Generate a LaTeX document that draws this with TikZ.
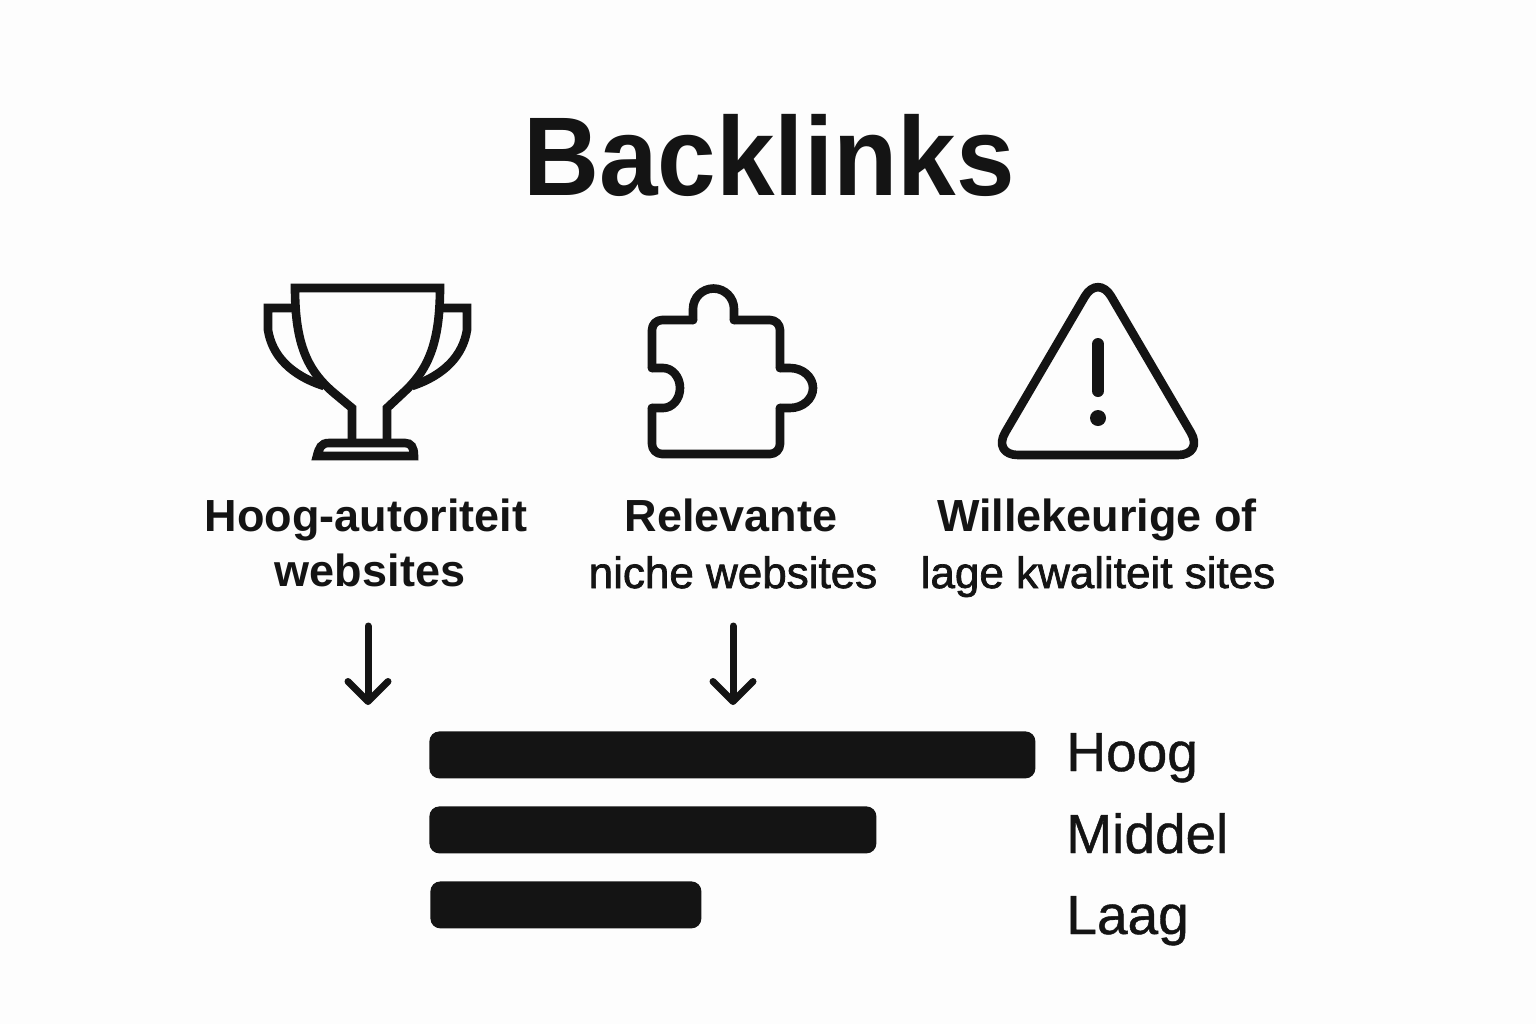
\documentclass[tikz,border=0pt]{standalone}
\usepackage{fontspec}
\setmainfont{Liberation Sans}
\newfontfamily\mediumfont[FakeBold=1.6]{Liberation Sans}
\newfontfamily\levelfont[FakeBold=0.8]{Liberation Sans}
\usetikzlibrary{arrows.meta}
\definecolor{inkcol}{HTML}{141414}
\definecolor{paper}{HTML}{FDFDFD}
\tikzset{
  icon/.style={draw=inkcol,line width=4.3pt,line join=round,line cap=round},
  cupline/.style={draw=inkcol,line width=4.3pt,line join=miter,line cap=butt},
  titletext/.style={text=inkcol,font=\bfseries\fontsize{56}{56}\selectfont,transform shape,xscale=0.94},
  caption/.style={text=inkcol,font=\bfseries\fontsize{22.5}{22.5}\selectfont,anchor=base},
  captionlight/.style={text=inkcol,font=\mediumfont\fontsize{22}{22}\selectfont,anchor=base},
  level/.style={text=inkcol,font=\levelfont\fontsize{27.5}{27.5}\selectfont,anchor=base west,inner sep=0pt},
  bar/.style={fill=inkcol,rounded corners=5pt,anchor=north west,inner sep=0pt,minimum height=23.5pt},
  pointer/.style={draw=inkcol,line width=3.5pt,line cap=round,-{Straight Barb[length=10pt,width=20pt,round]}}
}
\begin{document}
\begin{tikzpicture}[x=0.5pt,y=-0.5pt]
  \useasboundingbox[fill=paper] (0,0) rectangle (1536,1024);
  \def\handles{(295,308) -- (268,308) -- (268,330) .. controls (272,355) and (290,375) .. (324,386)
     (441,308) -- (467,308) -- (467,330) .. controls (463,355) and (445,375) .. (412,386)}
  \def\cup{(352,445) -- (352,408) -- (334,393) .. controls (308,371) and (295,345) .. (295,288)
     -- (440,288) .. controls (440,345) and (427,371) .. (403,393) -- (387,408) -- (387,445)}
  \node[titletext] (title) at (769,155) {Backlinks};
  % beker
  \draw[cupline] \handles;
  \draw[cupline] \cup;
  \draw[cupline] (317,456) .. controls (319,448) and (321,443) .. (329,443) -- (405,443)
     .. controls (411,443) and (414,447) .. (414,456) -- cycle;
  % puzzel
  \draw[icon] (693,320) -- (693,309) arc[start angle=180,end angle=0,radius=10.25pt] -- (734,320);
  \draw[icon,rounded corners=5pt] (734,320) -- (780,320) -- (780,368);
  \draw[icon] (780,368) -- (790,368) arc[start angle=90,end angle=-90,x radius=11.5pt,y radius=10pt] -- (780,408);
  \draw[icon,rounded corners=5pt] (780,408) -- (780,454) -- (652,454) -- (652,408);
  \draw[icon] (652,408) -- (663,408) arc[start angle=-90,end angle=90,x radius=8.5pt,y radius=10pt] -- (652,368);
  \draw[icon,rounded corners=5pt] (652,368) -- (652,320) -- (693,320);
  % driehoek
  \draw[icon,rounded corners=13pt] (992,455) -- (1098,274) -- (1204,455) -- cycle;
  \draw[inkcol,line width=6pt,line cap=round] (1098,344) -- (1098,391);
  \fill[inkcol] (1098,418) circle[radius=4pt];
  % teksten
  \node[caption] (authtop) at (366,531) {Hoog-autoriteit};
  \node[caption] (authbot) at (370,586) {websites};
  \node[caption] (nichetop) at (731,531) {Relevante};
  \node[captionlight] (nichebot) at (733,588) {niche websites};
  \node[caption] (lowtop) at (1097,531) {Willekeurige of};
  \node[captionlight] (lowbot) at (1098,588) {lage kwaliteit sites};
  % pijlen
  \coordinate (authfrom) at (368,626);
  \coordinate (authto) at (368,705);
  \coordinate (nichefrom) at (733,626);
  \coordinate (nicheto) at (733,705);
  \draw[pointer] (authfrom) -- (authto);
  \draw[pointer] (nichefrom) -- (nicheto);
  % balken
  \node[bar,minimum width=303pt] (high) at (429,731) {};
  \node[bar,minimum width=223.5pt] (mid) at (429,806) {};
  \node[bar,minimum width=135.5pt] (low) at (430,881) {};
  \node[level] (highlabel) at (1066,771) {Hoog};
  \node[level] (midlabel) at (1066,853) {Middel};
  \node[level] (lowlabel) at (1066,934) {Laag};
\end{tikzpicture}
\end{document}
